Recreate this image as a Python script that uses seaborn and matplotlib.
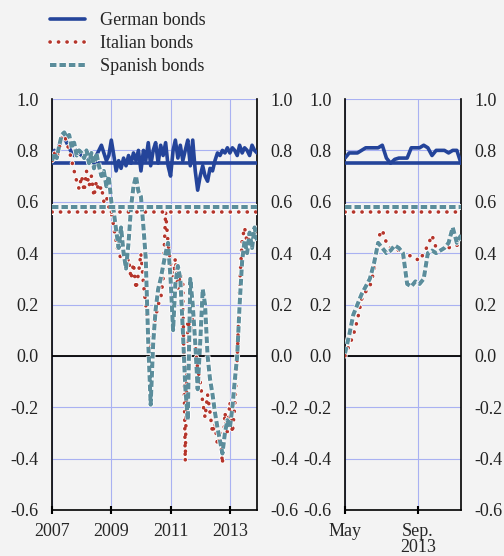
import numpy as np
import pandas as pd
import matplotlib
matplotlib.use("Agg")
import matplotlib.pyplot as plt
import matplotlib.dates as mdates
import matplotlib.patheffects as pe
import seaborn as sns

# Monthly rolling correlations, Jan 2007 - Dec 2013
german_long = [0.78, 0.80, 0.79, 0.82, 0.84, 0.85, 0.83, 0.81, 0.79, 0.78, 0.80, 0.79,
               0.78, 0.77, 0.79, 0.77, 0.78, 0.76, 0.78, 0.80, 0.82, 0.79, 0.76, 0.78,
               0.84, 0.78, 0.72, 0.76, 0.73, 0.77, 0.74, 0.78, 0.75, 0.79, 0.76, 0.80,
               0.72, 0.80, 0.76, 0.83, 0.74, 0.80, 0.83, 0.75, 0.82, 0.78, 0.83, 0.74,
               0.70, 0.80, 0.84, 0.77, 0.82, 0.76, 0.80, 0.84, 0.74, 0.84, 0.72, 0.645,
               0.70, 0.74, 0.70, 0.68, 0.73, 0.72, 0.76, 0.79, 0.78, 0.80, 0.79, 0.81,
               0.79, 0.81, 0.80, 0.78, 0.82, 0.79, 0.81, 0.80, 0.78, 0.82, 0.80, 0.79]
italian_long = [0.76, 0.79, 0.77, 0.81, 0.85, 0.86, 0.83, 0.80, 0.76, 0.72, 0.68, 0.65,
                0.70, 0.64, 0.72, 0.66, 0.70, 0.62, 0.68, 0.64, 0.66, 0.60, 0.62, 0.58,
                0.56, 0.50, 0.44, 0.40, 0.38, 0.42, 0.34, 0.38, 0.30, 0.36, 0.26, 0.32,
                0.40, 0.28, 0.20, 0.08, 0.02, 0.10, 0.15, 0.20, 0.22, 0.30, 0.56, 0.44,
                0.36, 0.30, 0.38, 0.26, 0.32, 0.28, -0.41, 0.14, 0.10, 0.15, 0.05, -0.05,
                -0.10, -0.18, -0.24, -0.15, -0.22, -0.30, -0.26, -0.35, -0.30, -0.42, -0.22, -0.30,
                -0.18, -0.30, -0.20, -0.02, 0.28, 0.45, 0.50, 0.44, 0.46, 0.42, 0.48, 0.45]
spanish_long = [0.76, 0.79, 0.77, 0.82, 0.86, 0.87, 0.85, 0.86, 0.81, 0.83, 0.78, 0.80,
                0.79, 0.77, 0.80, 0.75, 0.79, 0.73, 0.79, 0.74, 0.70, 0.72, 0.66, 0.70,
                0.60, 0.56, 0.49, 0.42, 0.50, 0.40, 0.34, 0.44, 0.58, 0.66, 0.70, 0.64,
                0.62, 0.50, 0.38, 0.05, -0.19, 0.05, 0.18, 0.26, 0.30, 0.35, 0.40, 0.44,
                0.30, 0.10, 0.28, 0.35, 0.30, 0.10, -0.12, -0.25, 0.30, 0.20, 0.05, -0.13,
                0.05, 0.26, 0.20, 0.00, -0.09, -0.15, -0.22, -0.28, -0.33, -0.38, -0.30, -0.25,
                -0.28, -0.20, -0.10, 0.00, 0.20, 0.37, 0.45, 0.40, 0.48, 0.42, 0.50, 0.45]

# Weekly, May - Nov 2013
german_short = [0.77, 0.79, 0.79, 0.79, 0.80, 0.81, 0.81, 0.81, 0.81, 0.82, 0.77, 0.75,
                0.765, 0.77, 0.77, 0.77, 0.81, 0.81, 0.81, 0.82, 0.81, 0.78, 0.80, 0.80,
                0.80, 0.79, 0.80, 0.80, 0.75]
italian_short = [0.00, 0.04, 0.08, 0.14, 0.22, 0.25, 0.27, 0.33, 0.46, 0.49, 0.44, 0.42,
                 0.42, 0.41, 0.38, 0.39, 0.39, 0.38, 0.37, 0.40, 0.43, 0.47, 0.42, 0.41,
                 0.41, 0.42, 0.43, 0.43, 0.44]
spanish_short = [0.01, 0.08, 0.16, 0.20, 0.24, 0.27, 0.30, 0.36, 0.44, 0.42, 0.40, 0.41,
                 0.43, 0.42, 0.40, 0.28, 0.27, 0.29, 0.28, 0.30, 0.40, 0.41, 0.40, 0.41,
                 0.42, 0.44, 0.50, 0.44, 0.47]

# Long-run averages (horizontal lines)
avg_levels = {"German bonds": 0.75, "Italian bonds": 0.56, "Spanish bonds": 0.58}

labels = ["German bonds", "Italian bonds", "Spanish bonds"]
colors = {"German bonds": "#24449a", "Italian bonds": "#b5352b", "Spanish bonds": "#5b8d9b"}
styles = {"German bonds": "-", "Italian bonds": (0, (0.05, 2.3)), "Spanish bonds": (0, (1.6, 0.75))}
widths = {"German bonds": 2.6, "Italian bonds": 2.6, "Spanish bonds": 2.9}

months = pd.date_range("2007-01-01", periods=len(german_long), freq="MS")
weeks = pd.date_range("2013-05-01", periods=len(german_short), freq="7D")

BG = "#f3f3f3"
GRID = "#a9b1f2"

sns.set_style("white")
plt.rcParams["font.family"] = ["Liberation Serif", "DejaVu Serif"]
plt.rcParams["axes.unicode_minus"] = False
plt.rcParams["font.size"] = 13

fig = plt.figure(figsize=(5.04, 5.56), dpi=100, facecolor=BG)
ax1 = fig.add_axes([52 / 504, 1 - 510 / 556, 205 / 504, 411 / 556])
ax2 = fig.add_axes([345 / 504, 1 - 510 / 556, 116 / 504, 411 / 556])

series_long = {"German bonds": german_long, "Italian bonds": italian_long, "Spanish bonds": spanish_long}
series_short = {"German bonds": german_short, "Italian bonds": italian_short, "Spanish bonds": spanish_short}


def line_kw(name):
    kw = dict(color=colors[name], linestyle=styles[name], lw=widths[name], zorder=3)
    if name == "Italian bonds":
        kw["dash_capstyle"] = "round"
    if name != "German bonds":
        kw["path_effects"] = [pe.Stroke(linewidth=widths[name] + 1.2, foreground="white"), pe.Normal()]
    return kw


for ax, x, data in [(ax1, months, series_long), (ax2, weeks, series_short)]:
    ax.set_facecolor(BG)
    ax.axhline(0, color="black", lw=1.3, zorder=2)
    for name in labels:
        sns.lineplot(x=x, y=data[name], ax=ax, label=name if ax is ax1 else None, **line_kw(name))
        ax.axhline(avg_levels[name], **line_kw(name))
    ax.set_ylim(-0.6, 1.0)
    ax.set_yticks(np.arange(-0.6, 1.01, 0.2))
    ax.yaxis.set_major_formatter(plt.FuncFormatter(lambda v, p: f"{v:.1f}"))
    ax.grid(True, color=GRID, lw=0.8, zorder=0)
    ax.set_axisbelow(True)
    ax.tick_params(axis="y", left=False, right=False, labelleft=True, labelright=True,
                   pad=6, labelsize=13, colors="#222222")
    ax.tick_params(axis="x", bottom=True, direction="inout", length=6, width=1.5,
                   color="black", pad=6, labelsize=13)
    ax.spines["top"].set_visible(False)
    for s in ["left", "right", "bottom"]:
        ax.spines[s].set_color("black")
        ax.spines[s].set_linewidth(1.2)
    ax.set_xlabel("")
    ax.set_ylabel("")

ax1.set_xlim(pd.Timestamp("2007-01-01"), pd.Timestamp("2013-12-01"))
ax1.set_xticks([pd.Timestamp(f"{y}-01-01") for y in [2007, 2009, 2011, 2013]])
ax1.xaxis.set_major_formatter(mdates.DateFormatter("%Y"))

ax2.set_xlim(pd.Timestamp("2013-05-01"), pd.Timestamp("2013-11-13"))
ax2.set_xticks([pd.Timestamp("2013-05-01"), pd.Timestamp("2013-09-01")])
ax2.set_xticklabels(["May", "Sep.\n2013"], linespacing=1.0)

handles, lbls = ax1.get_legend_handles_labels()
ax1.get_legend().remove()
fig.legend(handles, lbls, loc="upper left", bbox_to_anchor=(0.099, 0.978), frameon=False,
           fontsize=13, handlelength=1.95, handletextpad=0.8, labelspacing=0.33,
           borderpad=0, borderaxespad=0)

fig.savefig("out.png", dpi=100, facecolor=BG)
